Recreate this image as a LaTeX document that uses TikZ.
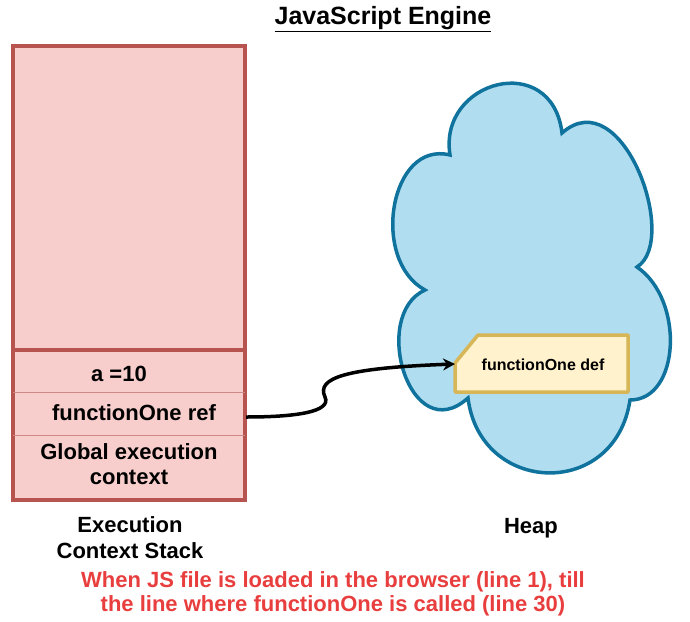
\documentclass[tikz,border=0pt]{standalone}
\usepackage{fontspec}
\setmainfont{Liberation Sans}
\usetikzlibrary{arrows.meta}
\definecolor{stackfill}{HTML}{F8CECC}
\definecolor{stackline}{HTML}{B85450}
\definecolor{heapfill}{HTML}{B1DDF0}
\definecolor{heapline}{HTML}{10739E}
\definecolor{deffill}{HTML}{FFF2CC}
\definecolor{defline}{HTML}{D6B656}
\definecolor{notered}{RGB}{232,62,62}
\begin{document}
\begin{tikzpicture}[x=1pt,y=-1pt,
  lbl/.style={font=\fontsize{22}{25}\selectfont\bfseries, align=center, inner sep=0pt},
  note/.style={font=\fontsize{22}{24}\selectfont\bfseries, align=center, inner sep=0pt, text=notered},
  titlestyle/.style={font=\fontsize{25}{28}\selectfont\bfseries, inner sep=0pt},
  stackbox/.style={fill=stackfill, draw=stackline, line width=4pt},
  rowline/.style={draw=stackline!70, line width=0.8pt},
  heapcloud/.style={fill=heapfill, draw=heapline, line width=3.5pt},
  defbox/.style={fill=deffill, draw=defline, line width=3.5pt, line join=round},
  link/.style={draw=black, line width=3.5pt, -{Stealth[length=12pt,width=12pt]}}
]
\useasboundingbox (0,0) rectangle (690,621);

% title
\node[titlestyle] (title) at (383,19) {\underline{JavaScript Engine}};

% execution context stack
\draw[stackbox] (13,46) rectangle (245,500);
\draw[rowline] (13,392) -- (245,392);
\draw[rowline] (13,435) -- (245,435);
\draw[stackline, line width=4pt] (13,350) -- (245,350);
\node[lbl] (rowa) at (119,374) {a =10};
\node[lbl] (rowref) at (134,413) {functionOne ref};
\node[lbl] (rowglobal) at (129,464.5) {Global execution\\context};
\coordinate (refout) at (246,417);

\node[lbl, font=\fontsize{22}{26}\selectfont\bfseries] (stacklabel) at (130,538) {Execution\\Context Stack};

% heap cloud
\draw[heapcloud] (450,155)
  .. controls (438,80) and (552,50) .. (562,133)
  .. controls (622,80) and (680,240) .. (637,267)
  .. controls (685,300) and (680,400) .. (630,400)
  .. controls (615,500) and (480,495) .. (468,398)
  .. controls (410,450) and (370,315) .. (425,290)
  .. controls (370,260) and (390,140) .. cycle;

% functionOne def box
\draw[defbox] (455,363) -- (478,335) -- (628,335) -- (628,392) -- (455,392) -- cycle;
\node[font=\fontsize{16}{19}\selectfont\bfseries, inner sep=0pt] (def) at (543,365) {functionOne def};
\coordinate (defin) at (455,364);

\node[lbl] (heaplabel) at (531,528) {Heap};

% connector
\draw[link] (refout) .. controls (295,417) and (332,412) .. (325,397)
  .. controls (316,378) and (345,368) .. (defin);

% note
\node[note] (note) at (333,594) {When JS file is loaded in the browser (line 1), till\\the line where functionOne is called (line 30)};
\end{tikzpicture}
\end{document}
